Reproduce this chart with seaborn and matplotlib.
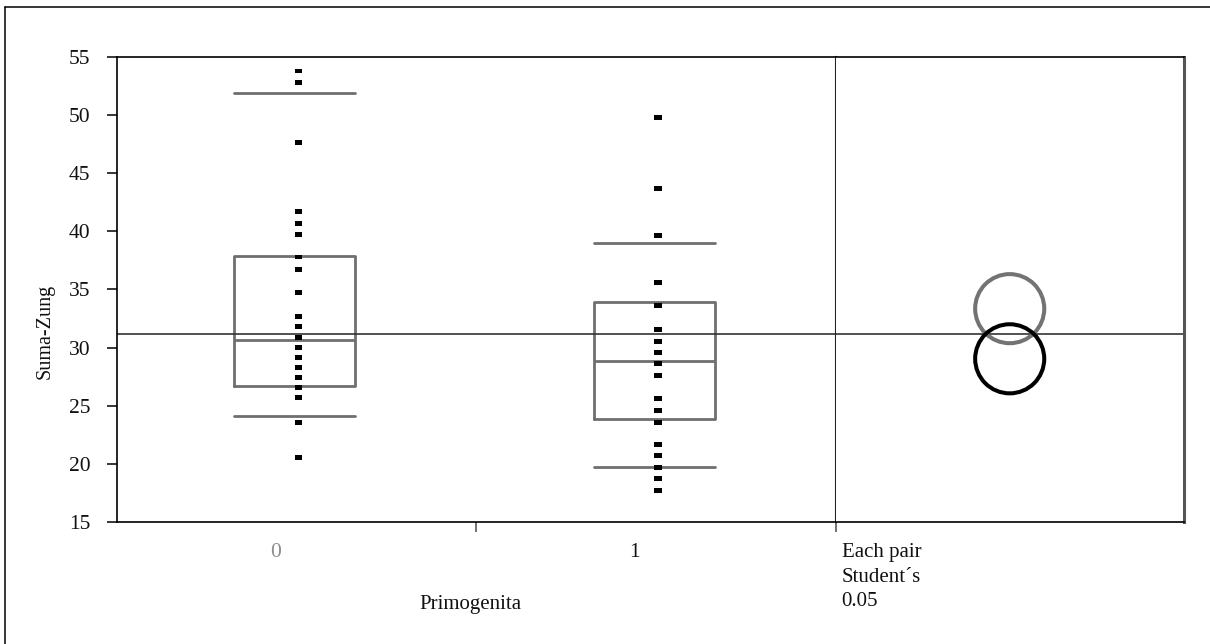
import numpy as np
import pandas as pd
import matplotlib
matplotlib.use("Agg")
import matplotlib.pyplot as plt
import seaborn as sns
from matplotlib.patches import Ellipse
from matplotlib.lines import Line2D
from matplotlib.path import Path

# ---------------- data ----------------
groups = ["0", "1"]
values_0 = [53.77, 52.76, 47.66, 41.66, 40.68, 39.71, 37.78, 36.72, 34.72, 32.68,
            31.79, 30.89, 30.03, 29.17, 28.28, 27.42, 26.56, 25.68, 23.58, 20.51]
values_1 = [49.78, 43.67, 39.59, 35.56, 33.65, 31.53, 30.55, 29.58, 28.60, 27.62,
            25.64, 24.61, 23.58, 21.65, 20.68, 19.70, 18.70, 17.69]
p10 = [24.15, 19.76]
q1 = [26.73, 23.87]
med = [30.67, 28.83]
q3 = [37.87, 33.88]
p90 = [51.90, 38.99]
grand_mean = 31.2
circle_means = [33.34, 29.03]
circle_radius = [2.97, 2.97]
yticks = [15, 20, 25, 30, 35, 40, 45, 50, 55]
x_label = "Primogenita"
y_label = "Suma-Zung"
test_lines = ["Each pair", "Student\u00b4s", "0.05"]

# ---------------- style ----------------
sns.set_theme(style="white")
plt.rcParams['font.family'] = ['Liberation Serif', 'DejaVu Serif']

GRAY = "#6f6f6f"
W, H = 1210, 644
L, R, T, B, D = 117, 1183.7, 56.7, 522, 835.7

fig = plt.figure(figsize=(W / 100, H / 100), dpi=100)
fig.patch.set_facecolor("white")
axL = fig.add_axes([L / W, 1 - B / H, (D - L) / W, (B - T) / H])
axR = fig.add_axes([D / W, 1 - B / H, (R - D) / W, (B - T) / H], sharey=axL)

positions = [0.495, 1.495]
box_w = 0.337

# points
df = pd.DataFrame({
    "group": ["0"] * len(values_0) + ["1"] * len(values_1),
    "value": values_0 + values_1,
})
df["xpos"] = df["group"].map({g: p + 0.01 for g, p in zip(groups, positions)})
rect = Path([(-1, -0.65), (1, -0.65), (1, 0.65), (-1, 0.65), (-1, -0.65)],
            [Path.MOVETO, Path.LINETO, Path.LINETO, Path.LINETO, Path.CLOSEPOLY])
sns.scatterplot(data=df, x="xpos", y="value", marker=rect, s=30, color="black",
                edgecolor="none", linewidth=0, ax=axL, zorder=4, legend=False)

# quantile boxes
stats = [dict(med=med[i], q1=q1[i], q3=q3[i], whislo=p10[i], whishi=p90[i],
              fliers=[], label=groups[i]) for i in range(2)]
axL.bxp(stats, positions=positions, widths=box_w, capwidths=box_w,
        showfliers=False, manage_ticks=False,
        boxprops=dict(color=GRAY, lw=2.0),
        medianprops=dict(color=GRAY, lw=2.0),
        whiskerprops=dict(linestyle="none"),
        capprops=dict(color=GRAY, lw=2.0))

for ax in (axL, axR):
    ax.axhline(grand_mean, color="#333333", lw=1.2, zorder=2)
    ax.set_facecolor("white")

axL.set_ylim(15, 55)
axL.set_xlim(0, 2)
axR.set_xlim(0, 1)

# comparison circles
px_per_y = (B - T) / 40.0
px_per_x = (R - D) / 1.0
for m, r, c in zip(circle_means, circle_radius, ["#737373", "#000000"]):
    e = Ellipse((0.5, m), 2 * r * px_per_y / px_per_x, 2 * r, fill=False,
                edgecolor=c, lw=2.9, zorder=3)
    axR.add_patch(e)

# spines
for ax in (axL, axR):
    for s in ax.spines.values():
        s.set_color("black")
        s.set_linewidth(1.2)
axL.spines["right"].set_color("#222222")
axL.spines["right"].set_linewidth(1.5)
axR.spines["left"].set_visible(False)
axR.spines["right"].set_color("#555555")
axR.spines["right"].set_linewidth(2.2)

# ticks
axL.set_yticks(yticks)
axL.set_yticklabels([str(t) for t in yticks])
axL.tick_params(axis="y", which="major", left=True, direction="out", length=7.2,
                width=1.1, color="black", pad=12, labelsize=15.5, labelcolor="#111111")
axL.set_xticks([1.0, 2.0])
axL.set_xticklabels(["", ""])
axL.tick_params(axis="x", which="major", bottom=True, direction="out", length=7.2,
                width=1.3, color="#666666")
axL.set_xticks([0.4425, 1.441], minor=True)
axL.set_xticklabels(groups, minor=True)
axL.tick_params(axis="x", which="minor", bottom=True, length=0, pad=15,
                labelsize=15.5)
mlabels = axL.get_xticklabels(minor=True)
mlabels[0].set_color("#8c8c8c")
mlabels[1].set_color("#111111")
axL.set_xlabel("")
axL.set_ylabel("")
axR.tick_params(left=False, labelleft=False, bottom=False, labelbottom=False)
axR.set_xticks([])

# texts
fig.text(45 / W, 1 - 331 / H, y_label, rotation=90, ha="center", va="center",
         fontsize=14.5, color="#111111")
fig.text(470 / W, 1 - 605 / H, x_label, ha="center", va="center",
         fontsize=15, color="#111111")
for i, line in enumerate(test_lines):
    fig.text(841.7 / W, 1 - (553 + 24.5 * i) / H, line, ha="left", va="center",
             fontsize=15, color="#111111")

# outer frame (top and left edges)
fig.add_artist(Line2D([5 / W, 1], [1 - 7.3 / H, 1 - 7.3 / H], transform=fig.transFigure,
                      color="black", lw=1.1))
fig.add_artist(Line2D([5 / W, 5 / W], [0, 1 - 7.3 / H], transform=fig.transFigure,
                      color="black", lw=1.1))

fig.savefig("out.png", dpi=100, facecolor="white")
